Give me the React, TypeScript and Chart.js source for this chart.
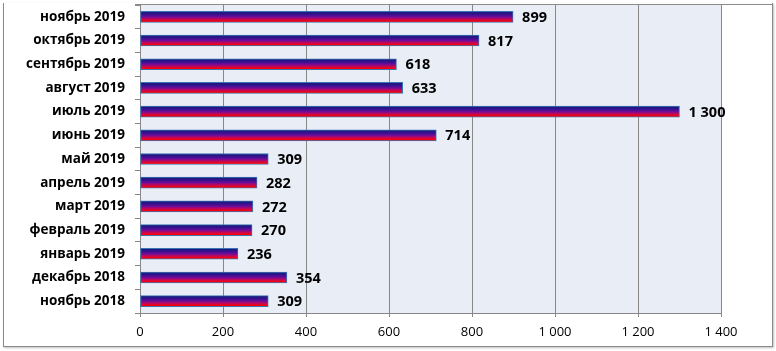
import React, { useEffect, useRef } from "react";
import { Chart, registerables } from "chart.js";

Chart.register(...registerables);

const categories = [
  "ноябрь 2019",
  "октябрь 2019",
  "сентябрь 2019",
  "август 2019",
  "июль 2019",
  "июнь 2019",
  "май 2019",
  "апрель 2019",
  "март 2019",
  "февраль 2019",
  "январь 2019",
  "декабрь 2018",
  "ноябрь 2018",
];
const values = [899, 817, 618, 633, 1300, 714, 309, 282, 272, 270, 236, 354, 309];
const xMin = 0;
const xMax = 1400;
const xStep = 200;

const FONT = "'Open Sans', 'Noto Sans', sans-serif";
const BAR_T = 11;

function fmt(v: number): string {
  const s = String(Math.round(v));
  return s.replace(/\B(?=(\d{3})+(?!\d))/g, " ");
}

const bgPlugin = {
  id: "plotBg",
  beforeDraw(chart: any) {
    const { ctx, chartArea } = chart;
    ctx.save();
    ctx.fillStyle = "#E9EDF5";
    ctx.fillRect(chartArea.left, chartArea.top, chartArea.right - chartArea.left, chartArea.bottom - chartArea.top);
    ctx.restore();
  },
};

const labelPlugin = {
  id: "valueLabels",
  afterDatasetsDraw(chart: any) {
    const { ctx } = chart;
    const meta = chart.getDatasetMeta(0);
    ctx.save();
    ctx.font = `bold 14.5px ${FONT}`;
    ctx.fillStyle = "#000";
    ctx.textAlign = "left";
    ctx.textBaseline = "middle";
    meta.data.forEach((bar: any, i: number) => {
      ctx.fillText(fmt(values[i]), bar.x + 9, bar.y + 1);
    });
    ctx.restore();
  },
};

export default function App() {
  const ref = useRef<HTMLCanvasElement | null>(null);
  useEffect(() => {
    if (!ref.current) return;
    const chart = new Chart(ref.current, {
      type: "bar",
      data: {
        labels: categories,
        datasets: [
          {
            data: values,
            barThickness: BAR_T,
            borderWidth: 1,
            borderColor: "#3B72B4",
            borderSkipped: false,
            backgroundColor: (c: any) => {
              const chartObj = c.chart;
              const y = chartObj.scales && chartObj.scales.y;
              if (!y || c.dataIndex === undefined) return "#6a1a9a";
              const yc = y.getPixelForValue(c.dataIndex);
              if (!Number.isFinite(yc)) return "#6a1a9a";
              const g = chartObj.ctx.createLinearGradient(0, yc - BAR_T / 2 + 1, 0, yc + BAR_T / 2 - 1);
              g.addColorStop(0, "#1A1A80");
              g.addColorStop(0.25, "#3A1090");
              g.addColorStop(0.5, "#700C98");
              g.addColorStop(0.75, "#C0085A");
              g.addColorStop(1, "#FF0000");
              return g;
            },
          },
        ],
      },
      options: {
        indexAxis: "y",
        animation: false,
        responsive: false,
        maintainAspectRatio: false,
        layout: { padding: { left: 0, right: 55, top: 5, bottom: 0 } },
        plugins: { legend: { display: false }, tooltip: { enabled: false } },
        scales: {
          x: {
            min: xMin,
            max: xMax,
            ticks: {
              stepSize: xStep,
              callback: (v: any) => fmt(Number(v)),
              color: "#000",
              font: { family: FONT, size: 13 },
              padding: 7,
              maxRotation: 0,
            },
            grid: { color: "#878787", lineWidth: 1, tickLength: 4 },
            border: { display: true, color: "#878787" },
            afterFit: (s: any) => {
              s.height = 38;
              s.paddingLeft = 0;
              s.paddingRight = 0;
            },
          },
          y: {
            ticks: {
              color: "#000",
              font: { family: FONT, size: 13.5, weight: "bold" },
              padding: 10,
              autoSkip: false,
            },
            grid: { drawOnChartArea: false, drawTicks: true, tickLength: 5, color: "#878787", offset: true },
            border: { display: true, color: "#878787", width: 1 },
            afterFit: (s: any) => {
              s.width = 140;
              s.paddingTop = 0;
              s.paddingBottom = 0;
            },
          },
        },
      },
      plugins: [bgPlugin, labelPlugin],
    } as any);
    return () => chart.destroy();
  }, []);

  return (
    <div style={{ position: "fixed", left: 0, top: 0, width: 776, height: 351, background: "#fff" }}>
      <div
        style={{
          position: "absolute",
          left: 3,
          top: 3,
          width: 768,
          height: 343,
          borderLeft: "1px solid #8a8a8a",
          borderRight: "1px solid #8a8a8a",
          borderBottom: "1px solid #8a8a8a",
          boxShadow: "1px 1px 2px rgba(0,0,0,0.25)",
        }}
      />
      <div style={{ position: "absolute", left: 135, top: 4, width: 637, height: 1, background: "#8a8a8a" }} />
      <canvas ref={ref} width={776} height={351} style={{ position: "absolute", left: 0, top: 0, display: "block" }} />
    </div>
  );
}
